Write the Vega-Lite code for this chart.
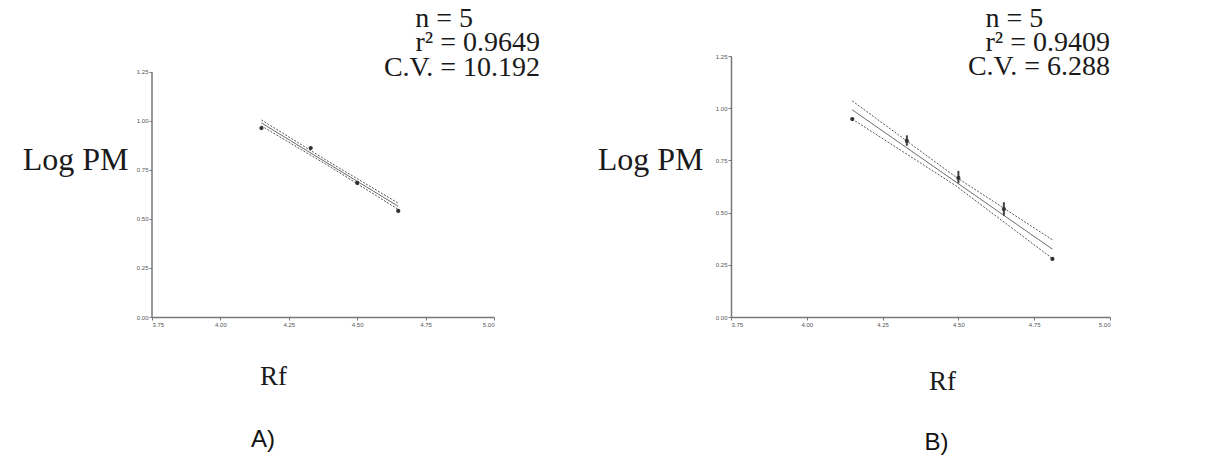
{
  "$schema": "https://vega.github.io/schema/vega-lite/v6.json",
  "padding": {"left": 22, "top": 5, "right": 5, "bottom": 5},
  "background": "white",
  "spacing": 57,
  "datasets": {
    "leftPts": [
      {"rf": 4.15, "logpm": 0.964},
      {"rf": 4.33, "logpm": 0.862},
      {"rf": 4.50, "logpm": 0.684},
      {"rf": 4.65, "logpm": 0.541}
    ],
    "leftAxisLine": [
      {"rf": 3.75, "lo": 0, "hi": 1.25}
    ],
    "leftLines": [
      {"series": "fit", "rf": 4.15, "logpm": 0.99},
      {"series": "fit", "rf": 4.65, "logpm": 0.565},
      {"series": "upper", "rf": 4.15, "logpm": 1.005},
      {"series": "upper", "rf": 4.40, "logpm": 0.789},
      {"series": "upper", "rf": 4.65, "logpm": 0.581},
      {"series": "lower", "rf": 4.15, "logpm": 0.975},
      {"series": "lower", "rf": 4.40, "logpm": 0.767},
      {"series": "lower", "rf": 4.65, "logpm": 0.549}
    ],
    "leftTextL": [
      {"rf": 4.712, "logpm": 1.52, "label": "n = 5"}
    ],
    "leftTextR": [
      {"rf": 5.168, "logpm": 1.398, "label": "r² = 0.9649"},
      {"rf": 5.168, "logpm": 1.27, "label": "C.V. = 10.192"}
    ],
    "rightPts": [
      {"rf": 4.15, "logpm": 0.948},
      {"rf": 4.33, "logpm": 0.843},
      {"rf": 4.50, "logpm": 0.666},
      {"rf": 4.65, "logpm": 0.517},
      {"rf": 4.81, "logpm": 0.278}
    ],
    "rightErr": [
      {"rf": 4.33, "lo": 0.82, "hi": 0.87},
      {"rf": 4.50, "lo": 0.64, "hi": 0.70},
      {"rf": 4.65, "lo": 0.485, "hi": 0.55}
    ],
    "rightLines": [
      {"series": "fit", "rf": 4.15, "logpm": 0.992},
      {"series": "fit", "rf": 4.81, "logpm": 0.325},
      {"series": "upper", "rf": 4.15, "logpm": 1.035},
      {"series": "upper", "rf": 4.49, "logpm": 0.672},
      {"series": "upper", "rf": 4.81, "logpm": 0.37},
      {"series": "lower", "rf": 4.15, "logpm": 0.948},
      {"series": "lower", "rf": 4.49, "logpm": 0.63},
      {"series": "lower", "rf": 4.81, "logpm": 0.28}
    ],
    "rightTextL": [
      {"rf": 4.589, "logpm": 1.427, "label": "n = 5"}
    ],
    "rightTextR": [
      {"rf": 5.0, "logpm": 1.312, "label": "r² = 0.9409"},
      {"rf": 5.0, "logpm": 1.197, "label": "C.V. = 6.288"}
    ]
  },
  "hconcat": [
    {
      "width": 342,
      "height": 261,
      "title": {"text": "A)", "orient": "bottom", "font": "Liberation Sans", "fontSize": 24, "fontWeight": "normal", "color": "#111", "dx": -60, "offset": 39},
      "layer": [
        {
          "data": {"name": "leftLines"},
          "mark": {"type": "line", "color": "#555", "strokeWidth": 1},
          "encoding": {
            "x": {"field": "rf", "type": "quantitative", "title": "Rf",
              "scale": {"domain": [3.75, 5.0], "nice": false, "zero": false},
              "axis": {"values": [3.75, 4.0, 4.25, 4.5, 4.75, 5.0], "format": ".2f", "titleX": 121, "titleY": 59, "titleBaseline": "middle", "titleAlign": "center"}},
            "y": {"field": "logpm", "type": "quantitative", "title": "Log PM",
              "scale": {"domain": [0, 1.3316], "nice": false},
              "axis": {"values": [0, 0.25, 0.5, 0.75, 1.0, 1.25], "format": ".2f", "domain": false, "titleAngle": 0, "titleAlign": "right", "titleBaseline": "middle", "titleX": -24, "titleY": 103, "titleFontSize": 32}},
            "detail": {"field": "series"},
            "strokeDash": {"field": "series", "type": "nominal", "legend": null,
              "scale": {"domain": ["fit", "upper", "lower"], "range": [[1, 0], [2, 1.5], [2, 1.5]]}}
          }
        },
        {
          "data": {"name": "leftAxisLine"},
          "mark": {"type": "rule", "color": "#777", "strokeWidth": 1.5},
          "encoding": {
            "x": {"field": "rf", "type": "quantitative", "title": "Rf", "scale": {"domain": [3.75, 5.0], "nice": false, "zero": false}},
            "y": {"field": "lo", "type": "quantitative", "title": "Log PM", "scale": {"domain": [0, 1.3316], "nice": false}},
            "y2": {"field": "hi"}
          }
        },
        {
          "data": {"name": "leftPts"},
          "mark": {"type": "point", "filled": true, "color": "#333", "size": 18, "opacity": 1},
          "encoding": {
            "x": {"field": "rf", "type": "quantitative", "title": "Rf", "scale": {"domain": [3.75, 5.0], "nice": false, "zero": false}},
            "y": {"field": "logpm", "type": "quantitative", "title": "Log PM", "scale": {"domain": [0, 1.3316], "nice": false}}
          }
        },
        {
          "data": {"name": "leftTextL"},
          "mark": {"type": "text", "font": "Liberation Serif", "fontSize": 28, "align": "left", "baseline": "middle", "color": "#1a1a1a"},
          "encoding": {
            "x": {"field": "rf", "type": "quantitative", "title": "Rf", "scale": {"domain": [3.75, 5.0], "nice": false, "zero": false}},
            "y": {"field": "logpm", "type": "quantitative", "title": "Log PM", "scale": {"domain": [0, 1.3316], "nice": false}},
            "text": {"field": "label"}
          }
        },
        {
          "data": {"name": "leftTextR"},
          "mark": {"type": "text", "font": "Liberation Serif", "fontSize": 28, "align": "right", "baseline": "middle", "color": "#1a1a1a"},
          "encoding": {
            "x": {"field": "rf", "type": "quantitative", "title": "Rf", "scale": {"domain": [3.75, 5.0], "nice": false, "zero": false}},
            "y": {"field": "logpm", "type": "quantitative", "title": "Log PM", "scale": {"domain": [0, 1.3316], "nice": false}},
            "text": {"field": "label"}
          }
        }
      ]
    },
    {
      "width": 379,
      "height": 261,
      "title": {"text": "B)", "orient": "bottom", "font": "Liberation Sans", "fontSize": 24, "fontWeight": "normal", "color": "#111", "dx": 16, "offset": 37},
      "layer": [
        {
          "data": {"name": "rightLines"},
          "mark": {"type": "line", "color": "#555", "strokeWidth": 1},
          "encoding": {
            "x": {"field": "rf", "type": "quantitative", "title": "Rf",
              "scale": {"domain": [3.75, 5.0], "nice": false, "zero": false},
              "axis": {"values": [3.75, 4.0, 4.25, 4.5, 4.75, 5.0], "format": ".2f", "titleX": 211, "titleY": 64, "titleBaseline": "middle", "titleAlign": "center"}},
            "y": {"field": "logpm", "type": "quantitative", "title": "Log PM",
              "scale": {"domain": [0, 1.25], "nice": false},
              "axis": {"values": [0, 0.25, 0.5, 0.75, 1.0, 1.25], "format": ".2f", "titleAngle": 0, "titleAlign": "right", "titleBaseline": "middle", "titleX": -28, "titleY": 103, "titleFontSize": 32}},
            "detail": {"field": "series"},
            "strokeDash": {"field": "series", "type": "nominal", "legend": null,
              "scale": {"domain": ["fit", "upper", "lower"], "range": [[1, 0], [2, 1.5], [2, 1.5]]}}
          }
        },
        {
          "data": {"name": "rightErr"},
          "mark": {"type": "rule", "color": "#444", "strokeWidth": 2},
          "encoding": {
            "x": {"field": "rf", "type": "quantitative", "title": "Rf", "scale": {"domain": [3.75, 5.0], "nice": false, "zero": false}},
            "y": {"field": "lo", "type": "quantitative", "title": "Log PM", "scale": {"domain": [0, 1.25], "nice": false}},
            "y2": {"field": "hi"}
          }
        },
        {
          "data": {"name": "rightPts"},
          "mark": {"type": "point", "filled": true, "color": "#333", "size": 18, "opacity": 1},
          "encoding": {
            "x": {"field": "rf", "type": "quantitative", "title": "Rf", "scale": {"domain": [3.75, 5.0], "nice": false, "zero": false}},
            "y": {"field": "logpm", "type": "quantitative", "title": "Log PM", "scale": {"domain": [0, 1.25], "nice": false}}
          }
        },
        {
          "data": {"name": "rightTextL"},
          "mark": {"type": "text", "font": "Liberation Serif", "fontSize": 28, "align": "left", "baseline": "middle", "color": "#1a1a1a"},
          "encoding": {
            "x": {"field": "rf", "type": "quantitative", "title": "Rf", "scale": {"domain": [3.75, 5.0], "nice": false, "zero": false}},
            "y": {"field": "logpm", "type": "quantitative", "title": "Log PM", "scale": {"domain": [0, 1.25], "nice": false}},
            "text": {"field": "label"}
          }
        },
        {
          "data": {"name": "rightTextR"},
          "mark": {"type": "text", "font": "Liberation Serif", "fontSize": 28, "align": "right", "baseline": "middle", "color": "#1a1a1a"},
          "encoding": {
            "x": {"field": "rf", "type": "quantitative", "title": "Rf", "scale": {"domain": [3.75, 5.0], "nice": false, "zero": false}},
            "y": {"field": "logpm", "type": "quantitative", "title": "Log PM", "scale": {"domain": [0, 1.25], "nice": false}},
            "text": {"field": "label"}
          }
        }
      ]
    }
  ],
  "config": {
    "view": {"stroke": null},
    "axis": {
      "grid": false,
      "labelFont": "Liberation Sans",
      "labelFontSize": 6,
      "labelColor": "#555",
      "domainColor": "#777",
      "domainWidth": 1.5,
      "tickColor": "#777",
      "tickSize": 3,
      "labelPadding": 1,
      "titleFont": "Liberation Serif",
      "titleFontSize": 27,
      "titleFontWeight": "normal",
      "titleColor": "#1a1a1a"
    }
  }
}
